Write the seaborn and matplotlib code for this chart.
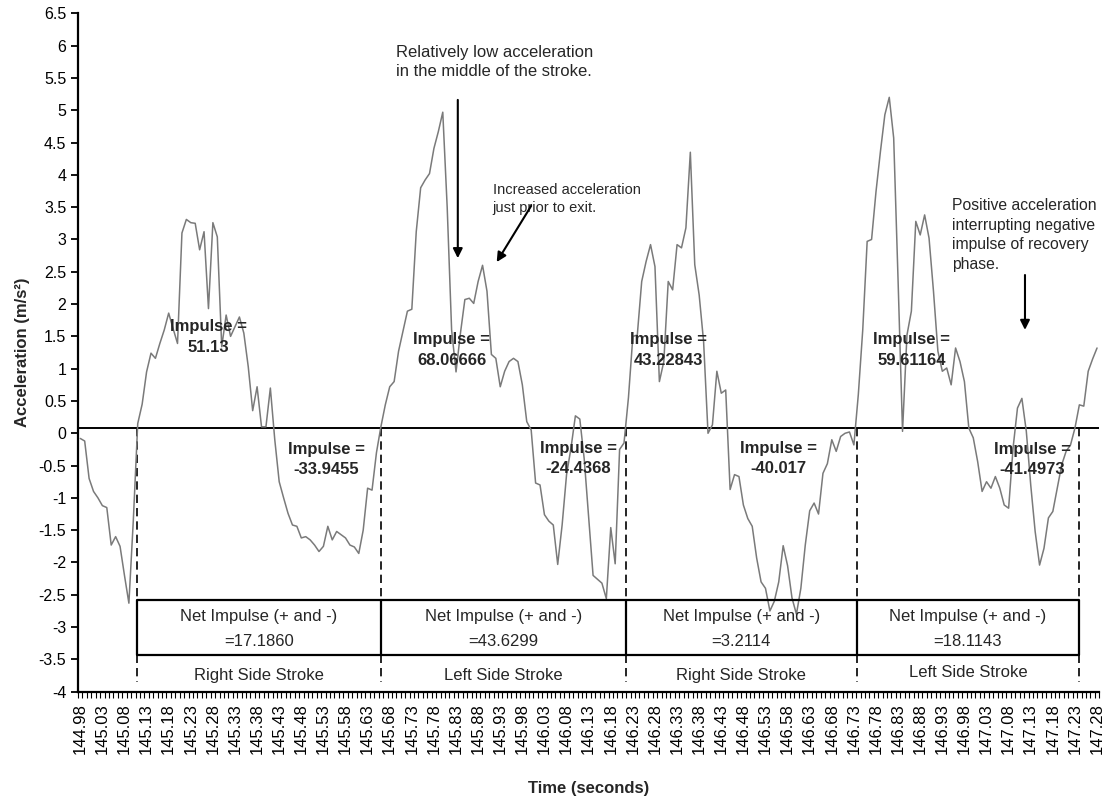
import numpy as np
import pandas as pd
import matplotlib
matplotlib.use("Agg")
import matplotlib.pyplot as plt
import seaborn as sns

# ---------------- data ----------------
t_start = 144.98
t_step = 0.01
accel = [
    -0.08, -0.12, -0.70, -0.90, -1.00, -1.12, -1.15, -1.73, -1.60, -1.75,
    -2.20, -2.63, -1.35, 0.15, 0.45, 0.95, 1.24, 1.16, 1.39, 1.60,
    1.86, 1.62, 1.39, 3.10, 3.31, 3.26, 3.25, 2.84, 3.12, 1.93,
    3.26, 3.04, 1.34, 1.83, 1.50, 1.65, 1.80, 1.55, 1.03, 0.35,
    0.72, 0.10, 0.10, 0.70, -0.10, -0.75, -1.00, -1.24, -1.42, -1.44,
    -1.62, -1.60, -1.65, -1.73, -1.83, -1.75, -1.44, -1.65, -1.52, -1.57,
    -1.62, -1.73, -1.76, -1.86, -1.50, -0.85, -0.88, -0.30, 0.10, 0.44,
    0.72, 0.80, 1.27, 1.58, 1.89, 1.92, 3.12, 3.80, 3.92, 4.02,
    4.41, 4.67, 4.97, 3.50, 1.60, 0.95, 1.55, 2.07, 2.09, 2.01,
    2.35, 2.60, 2.20, 1.22, 1.16, 0.72, 0.96, 1.11, 1.16, 1.11,
    0.75, 0.18, 0.05, -0.77, -0.80, -1.26, -1.36, -1.42, -2.03, -1.42,
    -0.64, -0.23, 0.27, 0.22, -0.40, -1.30, -2.20, -2.26, -2.32, -2.56,
    -1.46, -2.02, -0.25, -0.15, 0.55, 1.50, 1.52, 2.35, 2.66, 2.92,
    2.58, 0.80, 1.11, 2.35, 2.22, 2.92, 2.87, 3.18, 4.35, 2.61,
    2.14, 1.42, 0.00, 0.13, 0.96, 0.62, 0.67, -0.87, -0.64, -0.67,
    -1.11, -1.32, -1.44, -1.93, -2.30, -2.40, -2.75, -2.60, -2.30, -1.74,
    -2.05, -2.55, -2.80, -2.40, -1.73, -1.20, -1.08, -1.25, -0.62, -0.47,
    -0.10, -0.28, -0.05, 0.00, 0.02, -0.18, 0.60, 1.60, 2.97, 3.00,
    3.74, 4.36, 4.93, 5.20, 4.57, 2.35, 0.03, 1.52, 1.89, 3.28,
    3.07, 3.38, 3.02, 2.20, 1.27, 0.96, 1.01, 0.75, 1.32, 1.11,
    0.80, 0.08, -0.07, -0.44, -0.90, -0.75, -0.85, -0.67, -0.85, -1.11,
    -1.16, -0.23, 0.39, 0.54, 0.03, -0.80, -1.52, -2.04, -1.78, -1.31,
    -1.21, -0.85, -0.49, -0.28, -0.18, 0.08, 0.44, 0.42, 0.96, 1.15,
    1.32,
]
times = np.round(t_start + t_step * np.arange(len(accel)), 2)
tick_times = times[::5]
tick_labels = [f"{t:.2f}" for t in tick_times]

# stroke boundaries (zero crossings, seconds)
boundaries = [145.108, 145.660, 146.214, 146.736, 147.240]
net_impulse = ["=17.1860", "=43.6299", "=3.2114", "=18.1143"]
stroke_names = ["Right Side Stroke", "Left Side Stroke", "Right Side Stroke", "Left Side Stroke"]

impulse_labels = ["51.13", "-33.9455", "68.06666", "-24.4368",
                  "43.22843", "-40.017", "59.61164", "-41.4973"]
impulse_x = [145.27, 145.536, 145.82, 146.106, 146.311, 146.56, 146.86, 147.133]
impulse_y = [1.49, -0.41, 1.29, -0.39, 1.29, -0.39, 1.29, -0.41]

# ---------------- style ----------------
sns.set_style("white")
plt.rcParams["font.family"] = ["Liberation Sans", "DejaVu Sans"]

fig = plt.figure(figsize=(11.04, 7.99), dpi=100)
ax = fig.add_axes([0.0707, 0.1343, 0.925, 0.849])

df = pd.DataFrame({"Time (seconds)": times, "Acceleration": accel})
sns.lineplot(data=df, x="Time (seconds)", y="Acceleration", ax=ax,
             color="#7a7a7a", lw=1.1, zorder=3)

ax.set_xlim(t_start - t_step / 2, times[-1] + t_step / 2)
ax.set_ylim(-4, 6.5)

yt = np.arange(-4, 6.51, 0.5)
ax.set_yticks(yt)
ax.set_yticklabels([f"{v:g}" for v in yt])
ax.set_xticks(tick_times)
ax.set_xticklabels(tick_labels, rotation=90)
ax.set_xticks(np.append(times - t_step / 2, times[-1] + t_step / 2), minor=True)
ax.tick_params(axis="x", which="major", length=0, pad=8, labelsize=12, colors="black")
ax.tick_params(axis="x", which="minor", length=4, width=0.8, direction="out",
               color="black", bottom=True)
ax.tick_params(axis="y", which="major", length=5, width=1.3, direction="out",
               labelsize=11.5, left=True, colors="black")

for s in ["top", "right"]:
    ax.spines[s].set_visible(False)
for s in ["left", "bottom"]:
    ax.spines[s].set_color("black")
    ax.spines[s].set_linewidth(1.6)

ax.set_xlabel("Time (seconds)", fontsize=12, fontweight="bold", labelpad=20)
ax.set_ylabel("Acceleration (m/s²)", fontsize=12, fontweight="bold", labelpad=6)

# zero reference line
ax.axhline(0.08, color="black", lw=1.4, zorder=2)

# stroke boundaries and boxes
box_top, box_bot = -2.58, -3.43
for b in boundaries:
    ax.plot([b, b], [0.08, -3.85], color="black", lw=1.2, ls=(0, (5, 3)), zorder=2)
    ax.plot([b, b], [box_top, box_bot], color="black", lw=1.6, zorder=4)
ax.hlines([box_top, box_bot], boundaries[0], boundaries[-1], color="black", lw=1.6, zorder=4)

for k in range(4):
    cx = (boundaries[k] + boundaries[k + 1]) / 2
    ax.text(cx, -2.84, "Net Impulse (+ and -)", ha="center", va="center", fontsize=12)
    ax.text(cx, -3.22, net_impulse[k], ha="center", va="center", fontsize=12)
    ax.text(cx, -3.75 if k < 3 else -3.70, stroke_names[k], ha="center", va="center", fontsize=12)

for lab, x, y in zip(impulse_labels, impulse_x, impulse_y):
    ax.text(x, y, "Impulse =\n" + lab, ha="center", va="center", fontsize=12,
            fontweight="bold", linespacing=1.45, zorder=5)

# annotations
ax.text(145.695, 5.75, "Relatively low acceleration\nin the middle of the stroke.",
        ha="left", va="center", fontsize=12, linespacing=1.35)
ax.annotate("", xy=(145.834, 2.71), xytext=(145.834, 5.16),
            arrowprops=dict(arrowstyle="-|>", color="black", lw=1.5,
                            mutation_scale=14, shrinkA=0, shrinkB=0))
ax.text(145.913, 3.62, "Increased acceleration\njust prior to exit.",
        ha="left", va="center", fontsize=10.5, linespacing=1.35)
ax.annotate("", xy=(145.922, 2.65), xytext=(146.000, 3.52),
            arrowprops=dict(arrowstyle="-|>", color="black", lw=1.5,
                            mutation_scale=14, shrinkA=0, shrinkB=0))
ax.text(146.953, 3.07, "Positive acceleration\ninterrupting negative\nimpulse of recovery\nphase.",
        ha="left", va="center", fontsize=11.3, linespacing=1.4)
ax.annotate("", xy=(147.117, 1.60), xytext=(147.117, 2.45),
            arrowprops=dict(arrowstyle="-|>", color="black", lw=1.5,
                            mutation_scale=14, shrinkA=0, shrinkB=0))

fig.savefig("out.png", dpi=100)
